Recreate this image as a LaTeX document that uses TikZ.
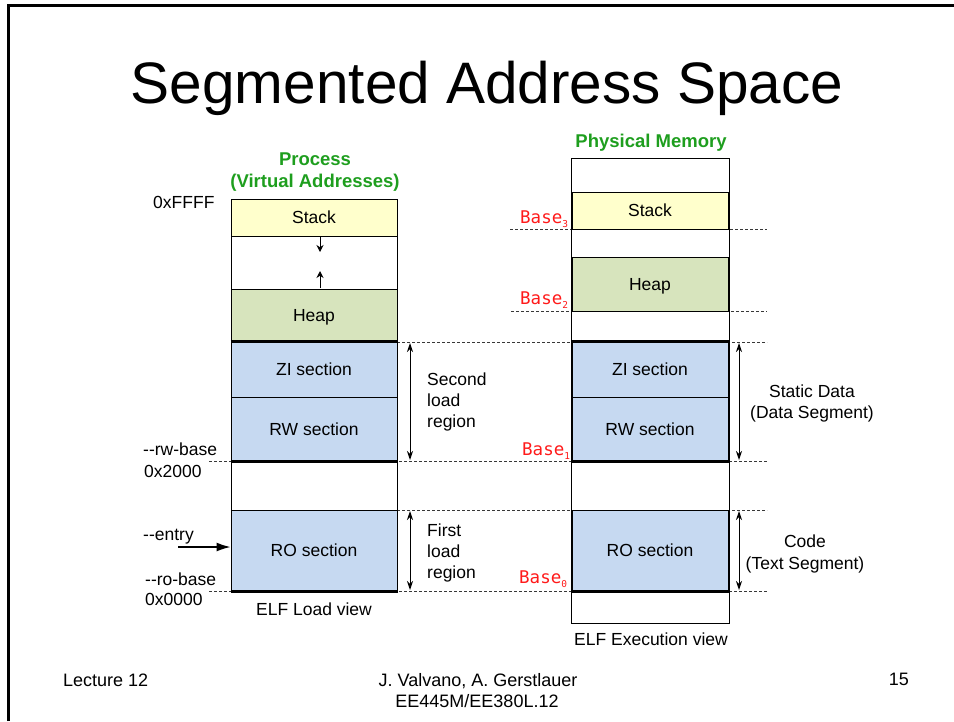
\documentclass[tikz,border=0pt]{standalone}
\usepackage{fontspec}
\setmainfont{Liberation Sans}
\newfontfamily\basefont{DejaVu Sans Mono}
\usetikzlibrary{arrows.meta}
\definecolor{stackc}{HTML}{FFFFCC}
\definecolor{heapc}{HTML}{D7E4BD}
\definecolor{secc}{HTML}{C6D9F1}
\definecolor{titlegreen}{HTML}{1E9E1E}
\definecolor{basered}{HTML}{FF1A1A}
\definecolor{dashc}{HTML}{383838}
\begin{document}
\begin{tikzpicture}[x=1pt,y=-1pt,
  box/.style={draw=black, line width=1pt, inner sep=0pt, text height=12.6pt, text depth=0pt,
    font=\fontsize{17.5}{20}\selectfont},
  lbox/.style={box, minimum width=166pt},
  rbox/.style={box, minimum width=156pt},
  lbl/.style={inner sep=0pt, font=\fontsize{17.5}{20}\selectfont},
  hdr/.style={inner sep=0pt, font=\fontsize{18.5}{22}\selectfont\bfseries, text=titlegreen},
  basel/.style={inner sep=0pt, anchor=base west, text=basered, font=\fontsize{17.5}{20}\basefont},
  dashln/.style={draw=dashc, line width=1pt, dash pattern=on 3pt off 2pt},
  thick line/.style={line width=2.2pt},
  dim/.style={line width=1pt, {Stealth[length=9pt,width=6pt]}-{Stealth[length=9pt,width=6pt]}},
]
\useasboundingbox (0,0) rectangle (954,721);
% frame
\draw[line width=2.5pt] (8.5,721) -- (8.5,5.5) -- (954,5.5);

% title
\node[inner sep=0pt, anchor=base, font=\fontsize{58.5}{70}\selectfont] (title) at (487,103) {Segmented Address Space};

% headers
\node[hdr, anchor=base] (proc) at (315,165) {Process};
\node[hdr, anchor=base] (virt) at (315,187.5) {(Virtual Addresses)};
\node[hdr, anchor=base] (phys) at (651,147) {Physical Memory};

% dashed guide coordinates
\coordinate (dR3) at (767,229);
\coordinate (dL3) at (510,229);
\coordinate (dR2) at (767,311);
\coordinate (dL2) at (511,311);
\coordinate (dRz) at (767,342);
\coordinate (dLz) at (397,342);
\coordinate (dRw) at (767,461);
\coordinate (dLw) at (209,461);
\coordinate (dRo) at (767,510);
\coordinate (dLo) at (397,510);
\coordinate (dRb) at (767,591);
\coordinate (dLb) at (209,591);
\draw[dashln] (dL3) -- (dR3);
\draw[dashln] (dL2) -- (dR2);
\draw[dashln] (dLz) -- (dRz);
\draw[dashln] (dLw) -- (dRw);
\draw[dashln] (dLo) -- (dRo);
\draw[dashln] (dLb) -- (dRb);

% left column (process view)
\node[lbox, fill=stackc, minimum height=37pt] (lstack) at (314,217.5) {Stack};
\node[lbox, fill=white, minimum height=53pt] (lgap1) at (314,262.5) {};
\node[lbox, fill=heapc, minimum height=53pt] (lheap) at (314,315.5) {Heap};
\node[lbox, fill=secc, minimum height=55pt] (lzi) at (314,369.5) {ZI section};
\node[lbox, fill=secc, minimum height=64pt] (lrw) at (314,429) {RW section};
\node[lbox, fill=white, minimum height=49pt] (lgap2) at (314,485.5) {};
\node[lbox, fill=secc, minimum height=81pt] (lro) at (314,550.5) {RO section};
\draw[thick line] (lzi.north west) -- (lzi.north east);
\draw[thick line] (lrw.south west) -- (lrw.south east);
\draw[thick line] (lro.south west) -- (lro.south east);

% stack / heap growth arrows
\coordinate (sg1) at (320,237);
\coordinate (sg2) at (320,252);
\coordinate (hg1) at (320,288);
\coordinate (hg2) at (320,271);
\draw[line width=1pt, -{Stealth[length=7pt,width=7pt]}] (sg1) -- (sg2);
\draw[line width=1pt, -{Stealth[length=7pt,width=7pt]}] (hg1) -- (hg2);

% right column (physical memory)
\node[rbox, fill=white, minimum width=158pt, minimum height=465pt] (router) at (650,390.5) {};
\node[rbox, fill=stackc, minimum height=37pt] (rstack) at (650,210.5) {Stack};
\node[rbox, fill=heapc, minimum height=54pt] (rheap) at (650,284) {Heap};
\node[rbox, fill=secc, minimum height=55pt] (rzi) at (650,369.5) {ZI section};
\node[rbox, fill=secc, minimum height=64pt] (rrw) at (650,429) {RW section};
\node[rbox, fill=secc, minimum height=81pt] (rro) at (650,550.5) {RO section};
\draw[thick line] (rzi.north west) -- (rzi.north east);
\draw[thick line] (rrw.south west) -- (rrw.south east);
\draw[thick line] (rro.south west) -- (rro.south east);

% left address labels
\node[lbl, anchor=base west] (aff) at (153,208) {0xFFFF};
\node[lbl, anchor=base west] (rwb) at (143,455) {-{}-rw-base};
\node[lbl, anchor=base west] (a2k) at (144,477) {0x2000};
\node[lbl, anchor=base west] (ent) at (143,540.5) {-{}-entry};
\node[lbl, anchor=base west] (rob) at (145,585) {-{}-ro-base};
\node[lbl, anchor=base west] (a0) at (145,605) {0x0000};
\coordinate (entS) at (178,547);
\draw[line width=1.4pt, -{Latex[length=14pt,width=9pt]}] (entS) -- (entS -| lro.west);

% load region arrows and texts
\coordinate (la1) at (410,343);
\coordinate (la2) at (410,460);
\coordinate (la3) at (410,511);
\coordinate (la4) at (410,590);
\draw[dim] (la1) -- (la2);
\draw[dim] (la3) -- (la4);
\node[lbl, anchor=base west] (sec1) at (427,385) {Second};
\node[lbl, anchor=base west] (sec2) at (427,406) {load};
\node[lbl, anchor=base west] (sec3) at (427,427) {region};
\node[lbl, anchor=base west] (fir1) at (427,536) {First};
\node[lbl, anchor=base west] (fir2) at (427,557) {load};
\node[lbl, anchor=base west] (fir3) at (427,578) {region};
\node[lbl, anchor=base] (elfl) at (314,615) {ELF Load view};

% segment arrows and texts
\coordinate (ra1) at (739,343);
\coordinate (ra2) at (739,460);
\coordinate (ra3) at (739,511);
\coordinate (ra4) at (739,590);
\draw[dim] (ra1) -- (ra2);
\draw[dim] (ra3) -- (ra4);
\node[lbl, anchor=base] (sd1) at (812,397) {Static Data};
\node[lbl, anchor=base] (sd2) at (812,418) {(Data Segment)};
\node[lbl, anchor=base] (cd1) at (805,547) {Code};
\node[lbl, anchor=base] (cd2) at (805,569) {(Text Segment)};
\node[lbl, anchor=base] (elfe) at (651,645) {ELF Execution view};

% base labels
\node[basel] (b3) at (520,223) {Base\raisebox{-4.5pt}{\fontsize{9.5}{10}\selectfont 3}};
\node[basel] (b2) at (520,304) {Base\raisebox{-4.5pt}{\fontsize{9.5}{10}\selectfont 2}};
\node[basel] (b1) at (522,455) {Base\raisebox{-4.5pt}{\fontsize{9.5}{10}\selectfont 1}};
\node[basel] (b0) at (519,583) {Base\raisebox{-4.5pt}{\fontsize{9.5}{10}\selectfont 0}};

% footer
\node[lbl, anchor=base west, font=\fontsize{18}{20}\selectfont] (lec) at (63,686) {Lecture 12};
\node[lbl, anchor=base, font=\fontsize{18}{20}\selectfont] (auth) at (478,686) {J. Valvano, A. Gerstlauer};
\node[lbl, anchor=base, font=\fontsize{18}{20}\selectfont] (course) at (477,707) {EE445M/EE380L.12};
\node[lbl, anchor=base east, font=\fontsize{18}{20}\selectfont] (pg) at (909,685) {15};
\end{tikzpicture}
\end{document}
